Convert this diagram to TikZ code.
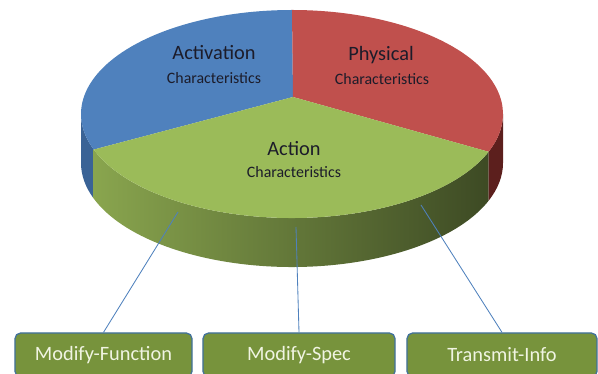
\documentclass[tikz,border=0pt]{standalone}
\usepackage{fontspec}
\setmainfont{Carlito}
\usetikzlibrary{positioning}
\definecolor{actblue}{HTML}{4F81BD}
\definecolor{physred}{HTML}{C0504D}
\definecolor{actgreen}{HTML}{9BBB59}
\definecolor{blueside}{HTML}{3A6396}
\definecolor{redside}{HTML}{5C1F1D}
\definecolor{greenlight}{HTML}{89A54E}
\definecolor{greenmid}{HTML}{5E7431}
\definecolor{greendark}{HTML}{3D4A24}
\definecolor{boxfill}{HTML}{77933C}
\definecolor{boxedge}{HTML}{41719C}
\definecolor{boxtext}{HTML}{F0F4E2}
\definecolor{labeltext}{HTML}{1C1C2A}
\tikzstyle{pietitle} = [text=labeltext, font=\fontsize{14.5}{17}\selectfont, inner sep=0pt]
\tikzstyle{piesub} = [text=labeltext, font=\fontsize{11.3}{13}\selectfont, inner sep=0pt]
\tikzstyle{kindbox} = [rectangle, rounded corners=4pt, minimum height=1.1cm, text centered, draw=boxedge, line width=0.9pt, fill=boxfill, text=boxtext, font=\fontsize{14.5}{17}\selectfont]
\tikzstyle{link} = [draw=actblue, line width=0.6pt]
\tikzstyle{pierim} = [x radius=211, y radius=104]

\begin{document}
\begin{tikzpicture}[x=0.025cm, y=0.025cm]
\useasboundingbox (0,0) rectangle (598,374);

\coordinate (center) at (292,260);
\coordinate (apex) at (293,277);

% sides
\fill [blueside] ([shift={(180:211 and 104)}]center) arc [pierim, start angle=180, end angle=200] -- ++(0,-49) arc [pierim, start angle=200, end angle=180] -- cycle;
\shade [left color=greenlight, middle color=greenmid, right color=greendark] ([shift={(200:211 and 104)}]center) arc [pierim, start angle=200, end angle=338.7] -- ++(0,-49) arc [pierim, start angle=338.7, end angle=200] -- cycle;
\fill [redside] ([shift={(338.7:211 and 104)}]center) arc [pierim, start angle=338.7, end angle=360] -- ++(0,-49) arc [pierim, start angle=360, end angle=338.7] -- cycle;

% top
\fill [actblue] (apex) -- ([shift={(200:211 and 104)}]center) arc [pierim, start angle=200, end angle=90] -- cycle;
\fill [physred] (apex) -- ([shift={(90:211 and 104)}]center) arc [pierim, start angle=90, end angle=-21.3] -- cycle;
\fill [actgreen] (apex) -- ([shift={(-21.3:211 and 104)}]center) arc [pierim, start angle=-21.3, end angle=-160] -- cycle;

\node (actT) [pietitle] at (214,321) {Activation};
\node (actS) [piesub] at (214,296) {Characteristics};
\node (physT) [pietitle] at (381,319) {Physical};
\node (physS) [piesub] at (382,295) {Characteristics};
\node (actionT) [pietitle] at (294,225) {Action};
\node (actionS) [piesub] at (294,202) {Characteristics};

\node (func) [kindbox, minimum width=4.425cm] at (103.5,19) {Modify-Function};
\node (spec) [kindbox, minimum width=4.8cm] at (299,19) {Modify-Spec};
\node (info) [kindbox, minimum width=4.75cm] at (502,19) {Transmit-Info};

\coordinate (funcpt) at (178,162);
\coordinate (specpt) at (296,147);
\coordinate (infopt) at (421,169);

\draw [link] (funcpt) -- (func.north);
\draw [link] (specpt) -- (spec.north);
\draw [link] (infopt) -- (info.north);

\end{tikzpicture}
\end{document}
